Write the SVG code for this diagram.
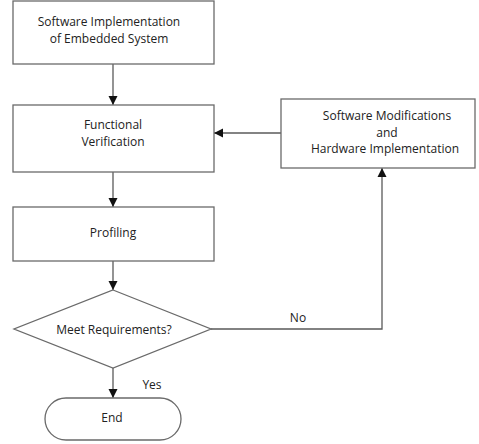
<svg xmlns="http://www.w3.org/2000/svg" width="479" height="444" viewBox="0 0 479 444">
<style>
.box{fill:#fff;stroke:#6a6a6a;stroke-width:1.3}
.ln{fill:none;stroke:#5a5a5a;stroke-width:1.3}
text{font-family:"Open Sans","Noto Sans",sans-serif;font-size:12px;fill:#222;text-anchor:middle}
</style>
<defs>
<marker id="ah" viewBox="0 0 10 10" refX="10" refY="5" markerWidth="9" markerHeight="11" markerUnits="userSpaceOnUse" orient="auto">
<path d="M0,0 L10,5 L0,10 z" fill="#111"/>
</marker>
</defs>
<rect width="479" height="444" fill="#fff"/>
<g id="connectors">
<line class="ln" x1="113" y1="64" x2="113" y2="105" marker-end="url(#ah)"/>
<line class="ln" x1="113" y1="172" x2="113" y2="207" marker-end="url(#ah)"/>
<line class="ln" x1="113" y1="261" x2="113" y2="290" marker-end="url(#ah)"/>
<line class="ln" x1="113" y1="368" x2="113" y2="398" marker-end="url(#ah)"/>
<polyline class="ln" points="211,329 382,329 382,168" marker-end="url(#ah)"/>
<line class="ln" x1="281" y1="133" x2="214" y2="133" marker-end="url(#ah)"/>
<text x="298" y="322">No</text>
<text x="152" y="389">Yes</text>
</g>
<g id="n1">
<rect class="box" x="13" y="1" width="201" height="63"/>
<text x="109" y="26">Software Implementation</text>
<text x="109" y="43">of Embedded System</text>
</g>
<g id="n2">
<rect class="box" x="13" y="105" width="201" height="67"/>
<text x="113" y="129">Functional</text>
<text x="113" y="146">Verification</text>
</g>
<g id="n3">
<rect class="box" x="13" y="207" width="201" height="54"/>
<text x="113" y="237">Profiling</text>
</g>
<g id="n4">
<polygon class="box" points="113,290 211,329 113,368 14,329"/>
<text x="114" y="334">Meet Requirements?</text>
</g>
<g id="n5">
<rect class="box" x="45" y="398" width="136" height="42" rx="21" ry="21"/>
<text x="112" y="422">End</text>
</g>
<g id="n6">
<rect class="box" x="281" y="99" width="194" height="69"/>
<text x="387" y="120">Software Modifications</text>
<text x="387" y="137">and</text>
<text x="385" y="153">Hardware Implementation</text>
</g>
</svg>
